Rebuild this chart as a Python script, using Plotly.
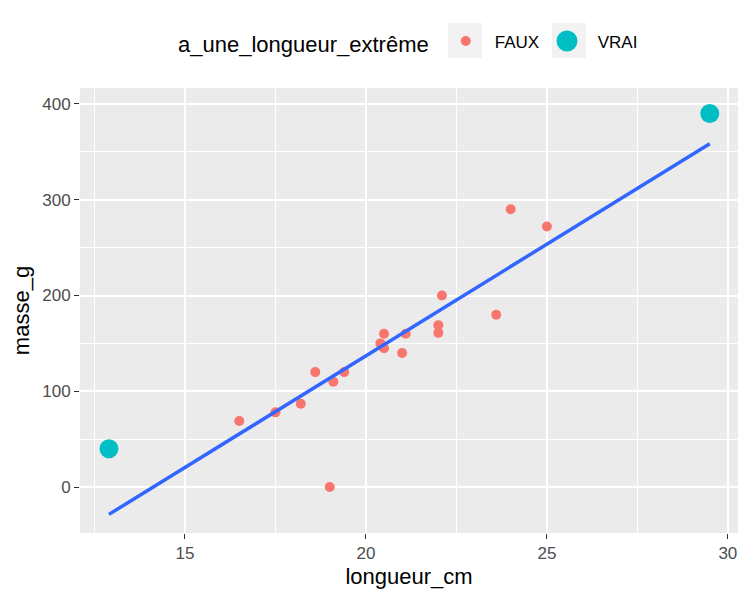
import numpy as np
import plotly.graph_objects as go

# données
longueur_faux = [16.5, 17.5, 18.2, 18.6, 19.0, 19.1, 19.4, 20.4, 20.5, 20.5, 21.0, 21.1, 22.0, 22.0, 22.1, 23.6, 24.0, 25.0]
masse_faux = [69, 78, 87, 120, 0, 110, 120, 150, 160, 145, 140, 160, 169, 161, 200, 180, 290, 272]
longueur_vrai = [12.9, 29.5]
masse_vrai = [40, 390]

FONT = "Liberation Sans, Arial, sans-serif"

# droite de régression (geom_smooth method = lm) sur tous les points
x_all = np.array(longueur_faux + longueur_vrai)
y_all = np.array(masse_faux + masse_vrai)
pente, origine = np.polyfit(x_all, y_all, 1)
x_fit = np.array([x_all.min(), x_all.max()])
y_fit = pente * x_fit + origine

fig = go.Figure()
fig.add_trace(go.Scatter(
    x=longueur_faux, y=masse_faux, mode='markers', name='FAUX',
    marker=dict(color='#F8766D', size=10),
))
fig.add_trace(go.Scatter(
    x=longueur_vrai, y=masse_vrai, mode='markers', name='VRAI',
    marker=dict(color='#00BFC4', size=19),
))
fig.add_trace(go.Scatter(
    x=x_fit, y=y_fit, mode='lines', showlegend=False,
    line=dict(color='#3366FF', width=3.5), hoverinfo='skip',
))

axis_common = dict(
    showgrid=True, gridcolor='white', gridwidth=1.6,
    zeroline=False, showline=False, automargin=False,
    ticks='outside', ticklen=5, tickcolor='#333333', tickwidth=1.2,
    tickfont=dict(family=FONT, size=17, color='#4D4D4D'),
)

fig.update_xaxes(
    range=[12.10, 30.28], dtick=5, tick0=0,
    title=dict(text='longueur_cm', standoff=6, font=dict(family=FONT, size=22, color='black')),
    minor=dict(showgrid=True, gridcolor='white', gridwidth=0.8, dtick=2.5, tick0=0),
    **axis_common,
)
fig.update_yaxes(
    range=[-48, 416.7], dtick=100, tick0=0,
    title=dict(text='masse_g', standoff=6, font=dict(family=FONT, size=22, color='black')),
    minor=dict(showgrid=True, gridcolor='white', gridwidth=0.8, dtick=50, tick0=0),
    **axis_common,
)


def px_x(p):
    return (p - 80) / 658


def px_y(p):
    return (533 - p) / 445


# cases grises derrière les clés de légende (style ggplot)
for x0, x1 in [(448, 482), (552, 586)]:
    fig.add_shape(type='rect', xref='paper', yref='paper', layer='below',
                  x0=px_x(x0), x1=px_x(x1), y0=px_y(58), y1=px_y(23),
                  fillcolor='#F2F2F2', line_width=0)
# la clé VRAI est plus grande que la taille max de plotly
fig.add_shape(type='circle', xref='paper', yref='paper', layer='below',
              x0=px_x(567 - 10.5), x1=px_x(567 + 10.5), y0=px_y(41 + 10.5), y1=px_y(41 - 10.5),
              fillcolor='#00BFC4', line_width=0)

fig.update_layout(
    width=750, height=600,
    plot_bgcolor='#EBEBEB', paper_bgcolor='white',
    margin=dict(l=72, r=20, t=80, b=75),
    legend=dict(
        orientation='h', x=px_x(176), xanchor='left', y=px_y(43), yanchor='middle',
        itemwidth=48, entrywidth=40, tracegroupgap=0,
        title=dict(text='a_une_longueur_extrême', side='left',
                   font=dict(family=FONT, size=22, color='black')),
        font=dict(family=FONT, size=17, color='black'),
        bgcolor='rgba(0,0,0,0)',
    ),
)

fig.write_html("out.html")
